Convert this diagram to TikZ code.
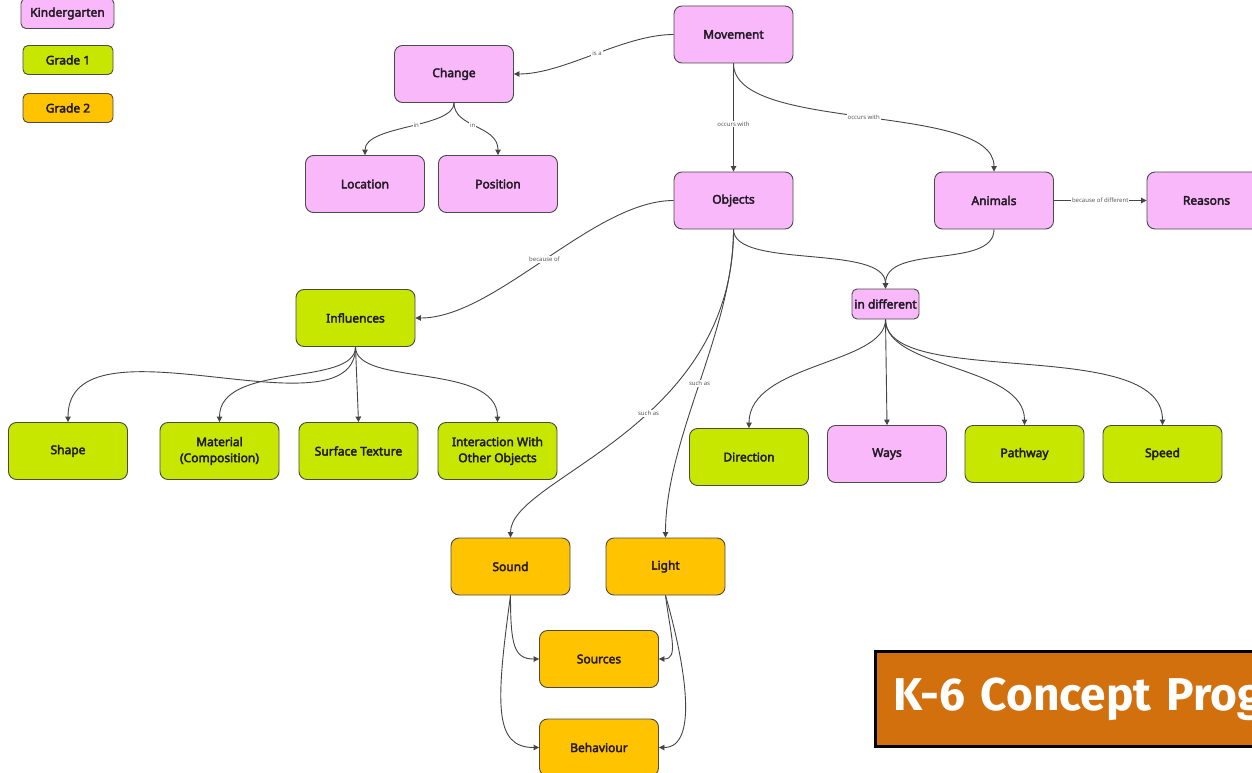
\documentclass[tikz,border=0pt]{standalone}
\usepackage{fontspec}
\setmainfont{Noto Sans}[BoldFont={Noto Sans}, BoldFeatures={FakeBold=3}]
\newfontfamily\titlefont{Fira Sans}
\usetikzlibrary{arrows.meta}

\definecolor{kpink}{HTML}{F9B8FA}
\definecolor{gone}{HTML}{C7E600}
\definecolor{gtwo}{HTML}{FFC300}
\definecolor{edgegray}{HTML}{454545}
\definecolor{boxline}{HTML}{4A4A4A}
\definecolor{nodetext}{HTML}{221A24}
\definecolor{titleorange}{HTML}{D3700E}

\tikzset{
  concept/.style={draw=boxline, line width=0.9pt, rounded corners=8pt,
    minimum width=119pt, minimum height=57pt, align=center, inner sep=2pt,
    font=\bfseries\fontsize{12}{16}\selectfont, text=nodetext},
  kinder/.style={concept, fill=kpink},
  gradeone/.style={concept, fill=gone},
  gradetwo/.style={concept, fill=gtwo},
  legendbox/.style={draw=boxline, line width=0.9pt, rounded corners=5pt,
    minimum width=90pt, minimum height=29pt, inner sep=2pt,
    font=\bfseries\fontsize{12}{14}\selectfont, text=nodetext},
  link/.style={draw=edgegray, line width=0.9pt, -{Triangle[length=5.5pt,width=5.5pt]}},
  lbl/.style={font=\fontsize{6}{7}\selectfont, text=black!65, fill=white, inner sep=1pt},
}

\begin{document}
\begin{tikzpicture}[x=1pt, y=-1pt]
\useasboundingbox (0,0) rectangle (1252,773);
\clip (0,0) rectangle (1252,773);
\fill[white] (0,0) rectangle (1252,773);

% legend
\node[legendbox, fill=kpink, minimum width=93pt, minimum height=30pt] (legk) at (67.5,13.5) {Kindergarten};
\node[legendbox, fill=gone] (leg1) at (68,60) {Grade 1};
\node[legendbox, fill=gtwo] (leg2) at (68,108) {Grade 2};

% kindergarten concepts
\node[kinder] (move) at (733.5,34.5) {Movement};
\node[kinder] (change) at (454,74) {Change};
\node[kinder] (loc) at (365,184) {Location};
\node[kinder] (pos) at (498,184) {Position};
\node[kinder] (obj) at (733.5,200.5) {Objects};
\node[kinder] (anim) at (994,200.5) {Animals};
\node[kinder] (reas) at (1206.5,200.5) {Reasons};
\node[kinder, minimum width=67pt, minimum height=30pt, rounded corners=5pt] (indiff) at (885.5,304) {in different};
\node[kinder] (ways) at (887,454) {Ways};

% grade 1 concepts
\node[gradeone] (infl) at (355.5,318) {Influences};
\node[gradeone] (shape) at (68,451) {Shape};
\node[gradeone] (mat) at (219.5,451) {Material\\(Composition)};
\node[gradeone] (surf) at (358.5,451) {Surface Texture};
\node[gradeone] (inter) at (497.5,451) {Interaction With\\Other Objects};
\node[gradeone] (dir) at (749,457) {Direction};
\node[gradeone] (path) at (1024.5,454) {Pathway};
\node[gradeone] (speed) at (1162.5,454) {Speed};

% grade 2 concepts
\node[gradetwo] (sound) at (510.5,566.5) {Sound};
\node[gradetwo] (light) at (665.5,566.5) {Light};
\node[gradetwo] (src) at (599,659) {Sources};
\node[gradetwo] (behav) at (599,747.5) {Behaviour};

% links from Movement
\draw[link] (move.west) .. controls +(-50,0) and +(50,0) .. node[lbl, pos=0.48] {is a} (change.east);
\draw[link] (change.south) .. controls +(0,25) and +(0,-30) .. node[lbl, pos=0.45] {in} (loc.north);
\draw[link] (change.south) .. controls +(0,25) and +(0,-30) .. node[lbl, pos=0.45] {in} (pos.north);
\draw[link] (move.south) -- node[lbl, pos=0.56] {occurs with} (obj.north);
\draw[link] (move.south) .. controls +(0,70) and +(0,-70) .. node[lbl, pos=0.5] {occurs with} (anim.north);
\draw[link] (anim.east) -- node[lbl] {because of different} (reas.west);

% links from Objects and Animals
\draw[link] (obj.west) .. controls +(-80,0) and +(80,0) .. node[lbl, pos=0.5] {because of} (infl.east);
\draw[link] (obj.south) .. controls +(0,40) and +(0,-45) .. (indiff.north);
\draw[link] (anim.south) .. controls +(0,40) and +(0,-45) .. (indiff.north);
\draw[link] (obj.south) .. controls +(0,200) and +(0,-60) .. node[lbl, pos=0.42] {such as} (sound.north);
\draw[link] (obj.south) .. controls +(0,100) and +(0,-100) .. node[lbl, pos=0.5] {such as} (light.north);

% links from Influences
\draw[link] (infl.south) .. controls +(0,94) and +(0,-113) .. (shape.north);
\draw[link] (infl.south) .. controls +(0,40) and +(0,-60) .. (mat.north);
\draw[link] (infl.south) -- (surf.north);
\draw[link] (infl.south) .. controls +(0,40) and +(0,-60) .. (inter.north);

% links from "in different"
\draw[link] (indiff.south) .. controls +(0,45) and +(0,-65) .. (dir.north);
\draw[link] (indiff.south) -- (ways.north);
\draw[link] (indiff.south) .. controls +(0,50) and +(0,-60) .. (path.north);
\draw[link] (indiff.south) .. controls +(0,70) and +(0,-90) .. (speed.north);

% links from Sound and Light
\draw[link] (sound.south) .. controls +(0,50) and +(-25,0) .. (src.west);
\draw[link] (sound.south) .. controls +(-15,110) and +(-45,0) .. (behav.west);
\draw[link] (light.south) .. controls +(5,40) and +(20,0) .. (src.east);
\draw[link] (light.south) .. controls +(20,70) and +(40,0) .. (behav.east);

% title banner
\node[draw=black, line width=3pt, fill=titleorange, anchor=north west,
      minimum height=95pt, text width=420pt, align=left, inner xsep=18pt,
      font=\titlefont\bfseries\fontsize{46}{50}\selectfont, text=white]
      (title) at (874,650) {K-6 Concept Prog};
\end{tikzpicture}
\end{document}
